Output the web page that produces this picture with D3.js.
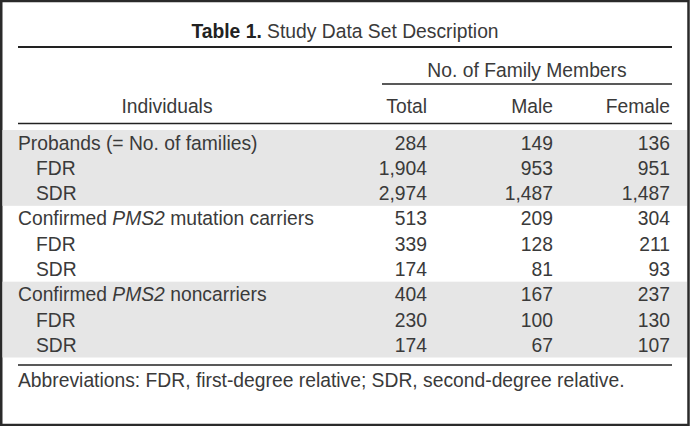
<!DOCTYPE html>
<html><head><meta charset="utf-8">
<script src="https://cdn.jsdelivr.net/npm/d3@7"></script>
<style>
html,body{margin:0;padding:0;background:#fff;}
svg{display:block;}
text{font-family:"Liberation Sans",Arial,sans-serif;fill:#3a3a3a;}
</style></head>
<body>
<svg id="chart" width="690" height="426"></svg>
<script>
// ---- data ----
const titleBold = "Table 1.";
const titleRest = " Study Data Set Description";
const groupHeader = "No. of Family Members";
const rowHeader = "Individuals";
const columns = ["Total", "Male", "Female"];
const rowLabels = [
  "Probands (= No. of families)", "FDR", "SDR",
  "Confirmed PMS2 mutation carriers", "FDR", "SDR",
  "Confirmed PMS2 noncarriers", "FDR", "SDR"
];
const rowIndent = [0, 1, 1, 0, 1, 1, 0, 1, 1];
const totalValues = [284, 1904, 2974, 513, 339, 174, 404, 230, 174];
const maleValues = [149, 953, 1487, 209, 128, 81, 167, 100, 67];
const femaleValues = [136, 951, 1487, 304, 211, 93, 237, 130, 107];
const shadedGroups = [[0, 2], [6, 8]];
const footnote = "Abbreviations: FDR, first-degree relative; SDR, second-degree relative.";
const italicTerm = "PMS2";

// ---- layout ----
const W = 690, H = 426;
const svg = d3.select("#chart");
const fs = 19.3;
const fmt = d3.format(",");

const y = d3.scaleBand().domain(d3.range(rowLabels.length)).range([130, 357.5]).paddingInner(0).paddingOuter(0);
const x = d3.scaleOrdinal().domain(columns).range([427, 553, 670]);
const valuesByCol = {Total: totalValues, Male: maleValues, Female: femaleValues};

// outer frame
svg.append("rect").attr("x", 1.25).attr("y", 1).attr("width", W - 2.75).attr("height", H - 2)
  .attr("fill", "#fff").attr("stroke", "#2a2a2a").attr("stroke-width", 2.5);

// shaded bands
shadedGroups.forEach(([a, b]) => {
  svg.append("rect").attr("x", 2.5).attr("width", W - 5.5)
    .attr("y", y(a)).attr("height", y(b) + y.bandwidth() - y(a))
    .attr("fill", "#e6e6e6");
});

// title
const t = svg.append("text").attr("x", W / 2).attr("y", 38).attr("text-anchor", "middle").attr("font-size", fs);
t.append("tspan").attr("font-weight", "bold").attr("fill", "#222").text(titleBold);
t.append("tspan").text(titleRest);

// rules
const rule = (x1, x2, yy, sw) => svg.append("line").attr("x1", x1).attr("x2", x2)
  .attr("y1", yy).attr("y2", yy).attr("stroke", "#222").attr("stroke-width", sw);
rule(18, 672, 47, 2);
rule(382, 672, 84, 1.6);
rule(18, 672, 123.5, 1.6);
rule(18, 672, 365, 1.6);

// header
svg.append("text").attr("x", 527).attr("y", 77).attr("text-anchor", "middle")
  .attr("font-size", fs).text(groupHeader);
svg.append("text").attr("x", 167).attr("y", 113).attr("text-anchor", "middle")
  .attr("font-size", fs).text(rowHeader);
svg.selectAll("text.colh").data(columns).join("text").attr("class", "colh")
  .attr("x", d => x(d)).attr("y", 113).attr("text-anchor", "end").attr("font-size", fs).text(d => d);

// row labels
const base = i => y(i) + y.bandwidth() / 2 + 7;
svg.selectAll("text.rl").data(rowLabels).join("text").attr("class", "rl")
  .attr("x", (d, i) => 18 + rowIndent[i] * 18).attr("y", (d, i) => base(i)).attr("font-size", fs)
  .each(function(d) {
    const sel = d3.select(this);
    const parts = d.split(italicTerm);
    parts.forEach((p, k) => {
      if (k > 0) sel.append("tspan").attr("font-style", "italic").text(italicTerm);
      if (p) sel.append("tspan").text(p);
    });
  });

// values
columns.forEach(c => {
  svg.selectAll("text.v" + c).data(valuesByCol[c]).join("text").attr("class", "v" + c)
    .attr("x", x(c)).attr("y", (d, i) => base(i)).attr("text-anchor", "end").attr("font-size", fs)
    .text(d => fmt(d));
});

// footnote
svg.append("text").attr("x", 18).attr("y", 387).attr("font-size", fs).text(footnote);
</script>
</body></html>
